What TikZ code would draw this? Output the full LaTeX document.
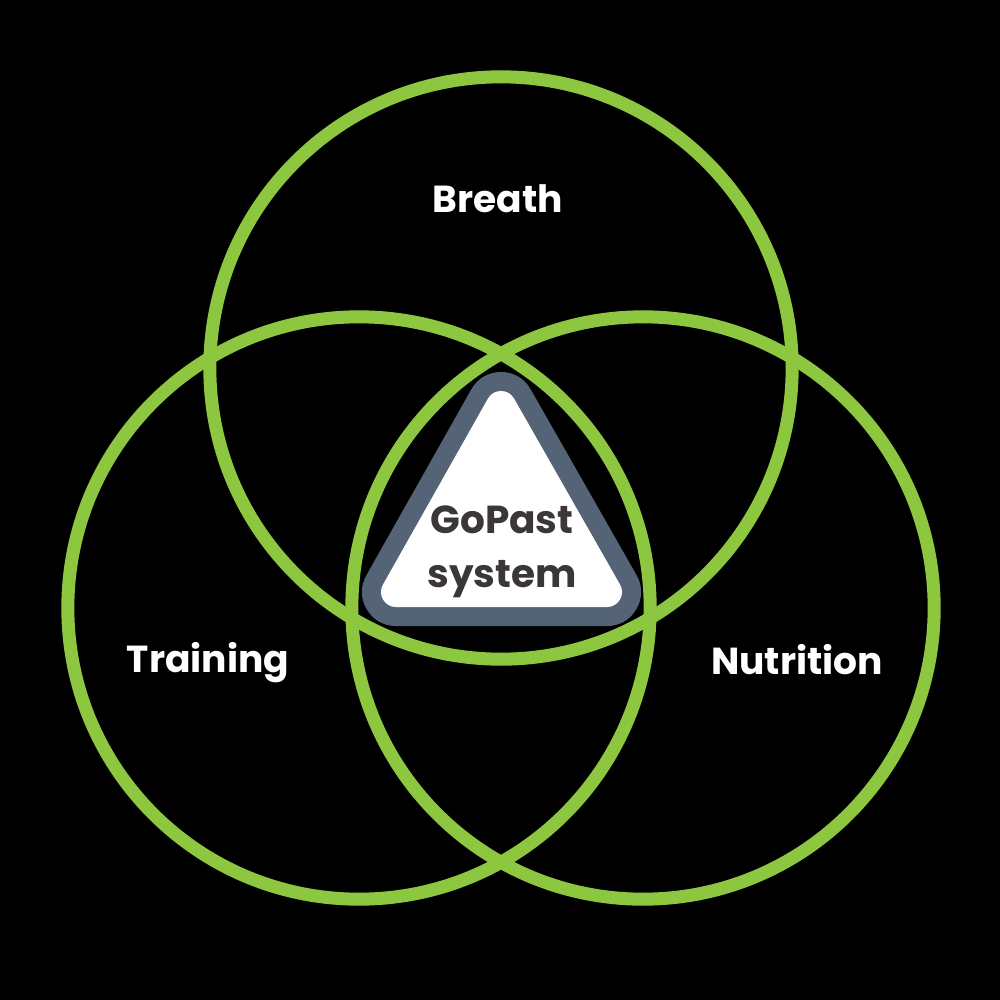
\documentclass[tikz,border=0pt]{standalone}
\usepackage{fontspec}
\setmainfont{Poppins}[BoldFont={Poppins Bold}]
\definecolor{ringgreen}{RGB}{141,198,63}
\definecolor{triborder}{RGB}{84,99,118}
\definecolor{textdark}{RGB}{59,55,55}
\begin{document}
\begin{tikzpicture}[x=0.01cm,y=-0.01cm,
  ring/.style={draw=ringgreen,line width=0.13cm},
  outer/.style={font=\bfseries\fontsize{10.7}{13}\selectfont,text=white},
  inner/.style={font=\bfseries\fontsize{11.1}{15.2}\selectfont,text=textdark,align=center}]
\fill[black] (0,0) rectangle (1000,1000);
\useasboundingbox (0,0) rectangle (1000,1000);
% triangle
\coordinate (ta) at (501,406);
\coordinate (tb) at (396,592);
\coordinate (tc) at (607,592);
\filldraw[triborder,line width=0.68cm,line join=round] (ta) -- (tb) -- (tc) -- cycle;
\filldraw[white,line width=0.30cm,line join=round] (ta) -- (tb) -- (tc) -- cycle;
% circles
\node[circle,ring,minimum size=5.82cm,inner sep=0pt] (top) at (501,368) {};
\node[circle,ring,minimum size=5.82cm,inner sep=0pt] (left) at (359,608) {};
\node[circle,ring,minimum size=5.82cm,inner sep=0pt] (right) at (643,608) {};
% labels
\node[outer] (breath) at (498,199) {Breath};
\node[outer] (training) at (208,663) {Training};
\node[outer] (nutrition) at (797,660) {Nutrition};
\node[inner] (gopast) at (502,552) {GoPast\\system};
\end{tikzpicture}
\end{document}
